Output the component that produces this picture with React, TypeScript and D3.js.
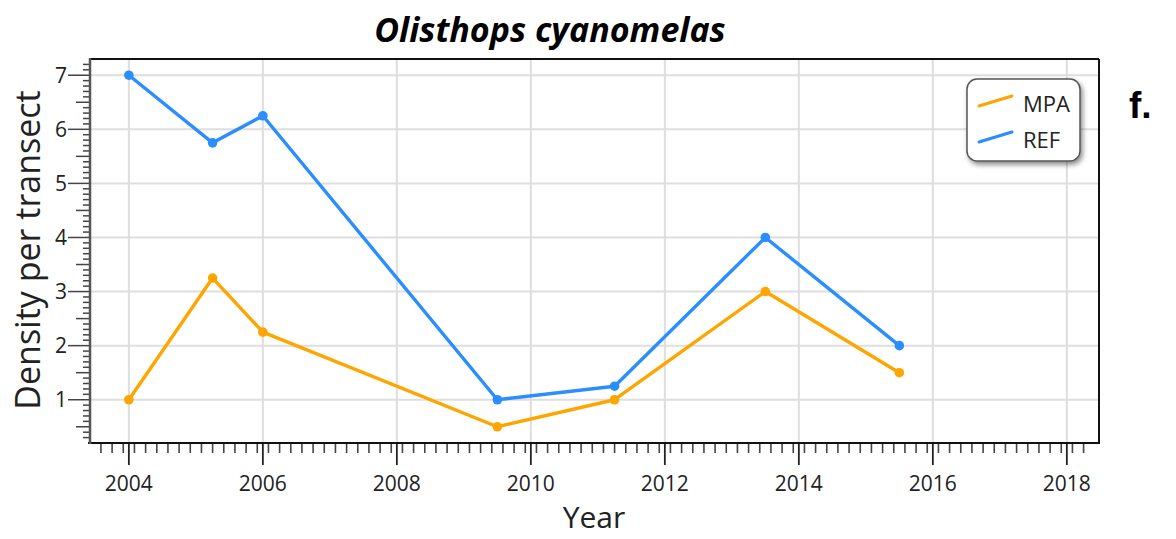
import React, { useRef, useEffect } from "react";
import * as d3 from "d3";

// survey dates (decimal year) and densities
const years = [2004, 2005.25, 2006, 2009.5, 2011.25, 2013.5, 2015.5];
const mpaValues = [1, 3.25, 2.25, 0.5, 1, 3, 1.5];
const refValues = [7, 5.75, 6.25, 1, 1.25, 4, 2];
const xTicks = [2004, 2006, 2008, 2010, 2012, 2014, 2016, 2018];
const yTicks = [1, 2, 3, 4, 5, 6, 7];
const seriesNames = ["MPA", "REF"];
const seriesColors = ["#FFA500", "#2A8EFF"];

const FONT = "'Open Sans', 'Noto Sans', sans-serif";

const App = () => {
  const xAxisRef = useRef(null);
  const yAxisRef = useRef(null);

  const left = 90;
  const top = 59;
  const right = 1099;
  const bottom = 443;

  const x = d3.scaleLinear().domain([2003.42, 2018.48]).range([left, right]);
  const y = d3.scaleLinear().domain([0.2, 7.3]).range([bottom, top]);

  const series = [mpaValues, refValues].map((vals, i) => ({
    name: seriesNames[i],
    color: seriesColors[i],
    points: vals.map((v, j) => ({ year: years[j], value: v })),
  }));

  const line = d3
    .line<{ year: number; value: number }>()
    .x((d) => x(d.year))
    .y((d) => y(d.value));

  useEffect(() => {
    // x axis: major ticks every 2 years, minor ones every 2 months offset by one month
    const xg = d3.select(xAxisRef.current);
    xg.selectAll("*").remove();
    const xMinor = d3.range(2003.5, 2018.5, 1 / 6).map((v) => v - 1 / 12).filter((v) => v >= 2003.42 && v <= 2018.48);
    xg.selectAll("line.minor")
      .data(xMinor)
      .enter()
      .append("line")
      .attr("x1", (d) => x(d))
      .attr("x2", (d) => x(d))
      .attr("y1", bottom)
      .attr("y2", bottom + 10)
      .attr("stroke", "#444")
      .attr("stroke-width", 1.6);
    xg.selectAll("line.major")
      .data(xTicks)
      .enter()
      .append("line")
      .attr("x1", (d) => x(d))
      .attr("x2", (d) => x(d))
      .attr("y1", bottom)
      .attr("y2", bottom + 22)
      .attr("stroke", "#222")
      .attr("stroke-width", 1.8);
    xg.selectAll("text")
      .data(xTicks)
      .enter()
      .append("text")
      .attr("x", (d) => x(d))
      .attr("y", 491)
      .attr("text-anchor", "middle")
      .attr("font-family", FONT)
      .attr("font-size", 21)
      .attr("fill", "#222")
      .text((d) => d);
    xg.append("line")
      .attr("x1", left - 2)
      .attr("x2", right + 1)
      .attr("y1", bottom)
      .attr("y2", bottom)
      .attr("stroke", "#111")
      .attr("stroke-width", 2);

    // y axis: minor every 0.1, medium every 0.5
    const yg = d3.select(yAxisRef.current);
    yg.selectAll("*").remove();
    const yMinor = d3.range(3, 73).map((v) => v / 10);
    yg.selectAll("line.minor")
      .data(yMinor)
      .enter()
      .append("line")
      .attr("x1", left)
      .attr("x2", (d) => (Math.round(d * 10) % 10 === 0 ? left - 22 : Math.round(d * 10) % 5 === 0 ? left - 14 : left - 7))
      .attr("y1", (d) => y(d))
      .attr("y2", (d) => y(d))
      .attr("stroke", "#444")
      .attr("stroke-width", 1.5);
    yg.selectAll("text")
      .data(yTicks)
      .enter()
      .append("text")
      .attr("x", 67)
      .attr("y", (d) => y(d) + 7.5)
      .attr("text-anchor", "end")
      .attr("font-family", FONT)
      .attr("font-size", 21)
      .attr("fill", "#222")
      .text((d) => d);
    yg.append("line")
      .attr("x1", left)
      .attr("x2", left)
      .attr("y1", top - 1)
      .attr("y2", bottom + 1)
      .attr("stroke", "#555")
      .attr("stroke-width", 2.5);
  }, []);

  return (
    <svg width={1176} height={539} style={{ position: "absolute", left: 0, top: 0, background: "#fff" }}>
      <defs>
        <filter id="legendShadow" x="-20%" y="-20%" width="140%" height="150%">
          <feDropShadow dx="2" dy="3" stdDeviation="2.5" floodColor="#000" floodOpacity="0.45" />
        </filter>
      </defs>

      <text x={550} y={42} textAnchor="middle" fontFamily={FONT} fontSize={34} fontWeight="bold" fontStyle="italic" fill="#000">
        Olisthops cyanomelas
      </text>

      {/* grid */}
      <g>
        {xTicks.map((t) => (
          <line key={"gx" + t} x1={x(t)} x2={x(t)} y1={top} y2={bottom} stroke="#dedede" strokeWidth={2} />
        ))}
        {yTicks.map((t) => (
          <line key={"gy" + t} x1={left} x2={right} y1={y(t)} y2={y(t)} stroke="#dedede" strokeWidth={2} />
        ))}
      </g>

      {/* frame top/right */}
      <line x1={left} x2={right} y1={top} y2={top} stroke="#111" strokeWidth={2} />
      <line x1={right} x2={right} y1={top} y2={bottom} stroke="#111" strokeWidth={2} />

      <g ref={xAxisRef}></g>
      <g ref={yAxisRef}></g>

      {series.map((s) => (
        <g key={s.name}>
          <path d={line(s.points) || ""} fill="none" stroke={s.color} strokeWidth={3.4} strokeLinejoin="round" />
          {s.points.map((p, i) => (
            <circle key={i} cx={x(p.year)} cy={y(p.value)} r={4.8} fill={s.color} />
          ))}
        </g>
      ))}

      {/* legend */}
      <g>
        <rect x={967} y={79} width={113} height={82} rx={10} ry={10} fill="#fff" stroke="#555" strokeWidth={1.5} filter="url(#legendShadow)" />
        {series.map((s, i) => (
          <g key={"lg" + s.name}>
            <line x1={979} y1={106 + i * 36} x2={1012} y2={96 + i * 36} stroke={s.color} strokeWidth={3} strokeLinecap="round" />
            <text x={1023} y={112 + i * 36} fontFamily={FONT} fontSize={22} fill="#222">
              {s.name}
            </text>
          </g>
        ))}
      </g>

      <text x={1129} y={118} fontFamily="'Liberation Sans', Arial, sans-serif" fontSize={37} fontWeight="bold" fill="#000">
        f.
      </text>

      <text
        transform={`translate(40,250) rotate(-90)`}
        textAnchor="middle"
        fontFamily={FONT}
        fontSize={34}
        fill="#222"
      >
        Density per transect
      </text>
      <text x={594} y={528} textAnchor="middle" fontFamily={FONT} fontSize={30} fill="#222">
        Year
      </text>
    </svg>
  );
};

export default App;
